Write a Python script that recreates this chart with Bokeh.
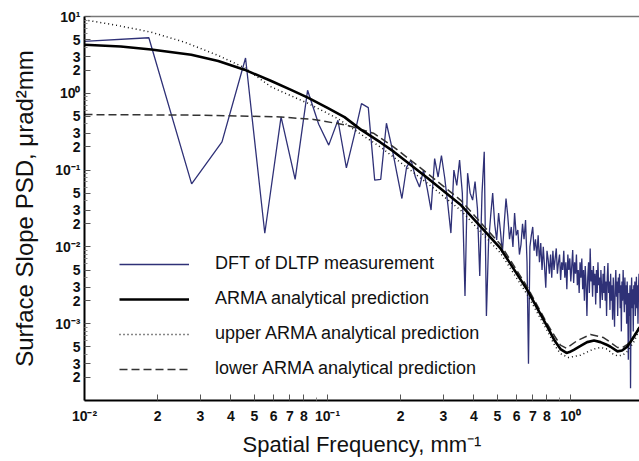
import numpy as np
from bokeh.plotting import figure
from bokeh.models import FixedTicker, LogAxis, Legend, LegendItem
from bokeh.embed import file_html
from bokeh.resources import INLINE

# ---------------- data ----------------
# DFT of DLTP measurement: regular frequency grid (step DF, mm^-1), log10 of PSD
DF = 0.0092
dft_log_psd = [
    0.67, 0.723, -1.18, -0.632, 0.459, -1.822, -0.307, -1.121, 0.039, -0.403,
    -0.675, -0.351, -0.97, -0.55, -0.134, -0.186, -1.13, -1.12, -0.39, -0.70,
    -1.05, -1.37, -0.96, -0.87, -1.09, -1.22, -1.0, -1.25, -1.52, -0.85,
    -1.09, -0.81, -1.1, -1.45, -1.82, -1.0, -1.2, -0.87, -1.3, -2.64,
    -1.04, -1.3, -1.39, -1.15, -1.5, -2.38, -1.3, -0.76, -2.9, -1.95,
    -1.6, -1.30, -1.7, -1.91, -1.56, -1.8, -2.08, -1.7, -1.37, -1.6,
    -1.9, -1.74, -2.0, -1.56, -1.85, -1.78, -2.1, -1.97, -1.7, -1.9,
    -1.65, -2.2, -3.52, -2.0, -1.85, -1.74, -2.05, -1.9, -2.12, -1.85,
    -2.2, -1.95, -2.3, -2.0, -2.26, -2.53, -2.05, -2.17, -2.35, -2.1,
    -2.4, -2.05, -2.3, -2.15, -2.02, -2.35, -2.2, -2.1, -2.43, -2.2,
    -2.3, -2.05, -2.4, -2.2, -2.55, -2.1, -2.3, -2.15, -2.45, -2.25,
    -2.04, -2.47, -2.2, -2.35, -2.1, -2.5, -2.3, -2.6, -2.2, -2.4,
    -2.15, -2.55, -2.3, -2.7, -2.25, -2.5, -2.9, -2.4, -2.2, -2.6,
    -2.02, -2.45, -2.3, -2.65, -2.25, -2.5, -2.35, -2.75, -2.3, -2.6,
    -2.2, -2.5, -2.4, -2.8, -2.3, -2.55, -2.69, -2.35, -2.6, -2.25,
    -2.7, -2.45, -2.9, -2.4, -2.21, -2.6, -2.45, -2.82, -2.35, -2.7,
    -2.5, -2.95, -2.4, -2.75, -3.04, -2.5, -2.3, -2.65, -2.45, -2.9,
    -2.4, -2.6, -2.35, -2.8, -2.5, -3.1, -2.45, -2.7, -2.3, -2.6,
    -2.85, -2.4, -2.75, -2.5, -3.0, -2.45, -2.7, -3.47, -2.6, -2.9,
    -2.5, -3.84, -2.7, -2.4, -2.8, -2.55, -3.1, -2.5, -2.75, -2.45,
    -2.9, -2.6, -2.39, -2.8, -2.5, -3.0, -2.6, -2.35, -2.7,
]

# ARMA analytical prediction
arma_f = [0.01, 0.0141, 0.0188, 0.0275, 0.0355, 0.0455, 0.0587, 0.0708, 0.083,
          0.1, 0.1175, 0.1367, 0.1653, 0.1874, 0.2572, 0.3527, 0.5152, 0.6636,
          0.8018, 0.86, 0.9095, 0.9627, 0.99, 1.032, 1.10, 1.171, 1.25, 1.329,
          1.40, 1.461, 1.561, 1.63, 1.711, 1.80, 1.923]
arma_log = [0.632, 0.61, 0.571, 0.503, 0.42, 0.308, 0.16, 0.045, -0.056,
            -0.19, -0.31, -0.47, -0.64, -0.76, -1.10, -1.45, -2.02, -2.56,
            -3.035, -3.22, -3.33, -3.38, -3.37, -3.34, -3.29, -3.24, -3.22, -3.24,
            -3.27, -3.30, -3.36, -3.35, -3.30, -3.20, -3.05]

# upper ARMA analytical prediction
upper_f = [0.01, 0.0137, 0.0188, 0.0258, 0.0354, 0.0455, 0.0587, 0.083, 0.1103,
           0.1367, 0.1653, 0.2572, 0.3527, 0.5152, 0.6636, 0.8018, 0.86, 0.9095,
           0.981, 1.0994, 1.2434, 1.33, 1.415, 1.49, 1.561, 1.64, 1.715, 1.82, 1.923]
upper_log = [0.957, 0.883, 0.796, 0.666, 0.494, 0.334, 0.082, -0.13, -0.33,
             -0.53, -0.70, -1.17, -1.52, -2.08, -2.62, -3.09, -3.28, -3.39,
             -3.44, -3.41, -3.33, -3.31, -3.33, -3.39, -3.42, -3.41, -3.36, -3.24, -3.08]

# lower ARMA analytical prediction
lower_f = [0.01, 0.03, 0.0641, 0.0876, 0.1206, 0.1546, 0.1874, 0.2572, 0.3527,
           0.5152, 0.6636, 0.8018, 0.86, 0.9095, 0.9627, 1.0656, 1.2085, 1.3671,
           1.47, 1.561, 1.64, 1.715, 1.82, 1.923]
lower_log = [-0.277, -0.285, -0.308, -0.34, -0.416, -0.52, -0.70, -1.04, -1.39,
             -1.97, -2.52, -3.0, -3.16, -3.28, -3.32, -3.22, -3.14, -3.18,
             -3.25, -3.31, -3.31, -3.27, -3.16, -3.04]

# axis ticks and labels
x_ticks = [0.01, 0.02, 0.03, 0.04, 0.05, 0.06, 0.07, 0.08,
           0.1, 0.2, 0.3, 0.4, 0.5, 0.6, 0.7, 0.8, 1.0]
x_tick_labels = ["10\u207b\u00b2", "2", "3", "4", "5", "6", "7", "8",
                 "10\u207b\u00b9", "2", "3", "4", "5", "6", "7", "8", "10\u2070"]
x_minor = [0.09, 0.9]

y_ticks = [10.0, 5.0, 3.0, 2.0, 1.0, 0.5, 0.3, 0.2, 0.1, 0.05, 0.03, 0.02,
           0.01, 0.005, 0.003, 0.002, 0.001, 0.0005, 0.0003, 0.0002]
y_tick_labels = ["10\u00b9", "5", "3", "2", "10\u2070", "5", "3", "2",
                 "10\u207b\u00b9", "5", "3", "2", "10\u207b\u00b2", "5", "3", "2",
                 "10\u207b\u00b3", "5", "3", "2"]
y_minor = [9.0, 8.0, 7.0, 6.0, 4.0, 0.9, 0.8, 0.7, 0.6, 0.4,
           0.09, 0.08, 0.07, 0.06, 0.04, 0.009, 0.008, 0.007, 0.006, 0.004,
           0.0009, 0.0008, 0.0007, 0.0006, 0.0004]

legend_labels = ["DFT of DLTP measurement", "ARMA analytical prediction",
                 "upper ARMA analytical prediction", "lower ARMA analytical prediction"]

# ---------------- figure ----------------
FONT = "Liberation Sans"
p = figure(width=639, height=461, x_axis_type="log", y_axis_type="log",
           x_range=(0.01, 1.923), y_range=(1e-4, 10.0),
           output_backend="svg", toolbar_location=None,
           min_border_left=84, min_border_right=0, min_border_top=16,
           min_border_bottom=61)
p.outline_line_color = None
p.grid.visible = False
p.background_fill_color = "white"
p.border_fill_color = "white"

dft_f = DF * np.arange(1, len(dft_log_psd) + 1)
r_dft = p.line(dft_f, 10.0 ** np.array(dft_log_psd), line_color="#2f3177", line_width=1.3)
r_up = p.line(upper_f, 10.0 ** np.array(upper_log), line_color="#111111", line_width=1.5,
              line_dash="1 3")
r_lo = p.line(lower_f, 10.0 ** np.array(lower_log), line_color="#333333", line_width=1.5,
              line_dash="8 4")
r_arma = p.line(arma_f, 10.0 ** np.array(arma_log), line_color="black", line_width=2.6)

# axes
for ax, ticks, labels, minor in ((p.xaxis[0], x_ticks, x_tick_labels, x_minor),
                                 (p.yaxis[0], y_ticks, y_tick_labels, y_minor)):
    ax.ticker = FixedTicker(ticks=ticks, minor_ticks=minor)
    ax.major_label_overrides = {t: l for t, l in zip(ticks, labels)}
    ax.axis_line_width = 2
    ax.axis_line_color = "black"
    ax.major_tick_in = 6
    ax.major_tick_out = 0
    ax.minor_tick_in = 3
    ax.minor_tick_out = 0
    ax.major_tick_line_color = "#555555"
    ax.minor_tick_line_color = "#888888"
    ax.major_label_text_font = FONT
    ax.major_label_text_font_size = "14px"
    ax.major_label_text_font_style = "bold"
    ax.major_label_text_color = "#111111"
    ax.axis_label_text_font = FONT
    ax.axis_label_text_font_style = "normal"
    ax.axis_label_text_color = "#111111"

p.xaxis.axis_label = "Spatial Frequency, mm\u207b\u00b9"
p.yaxis.axis_label = "Surface Slope PSD, \u03bcrad\u00b2mm"
p.xaxis.axis_label_text_font_size = "22px"
p.yaxis.axis_label_text_font_size = "24px"
p.xaxis.major_label_standoff = 7
p.xaxis.axis_label_standoff = 5
p.yaxis.major_label_standoff = 4
p.yaxis.axis_label_standoff = 14

top_axis = LogAxis(ticker=FixedTicker(ticks=[], minor_ticks=[]),
                   axis_line_color="#777777", axis_line_width=1.5,
                   major_tick_in=0, major_tick_out=0, minor_tick_in=0, minor_tick_out=0,
                   major_label_text_font_size="0px")
p.add_layout(top_axis, "above")

legend = Legend(items=[LegendItem(label=legend_labels[0], renderers=[r_dft]),
                       LegendItem(label=legend_labels[1], renderers=[r_arma]),
                       LegendItem(label=legend_labels[2], renderers=[r_up]),
                       LegendItem(label=legend_labels[3], renderers=[r_lo])],
                location=(35, 21), glyph_width=70, glyph_height=20,
                label_height=20, label_standoff=26, spacing=14,
                padding=0, margin=0, border_line_color=None,
                background_fill_alpha=0.0, label_text_font=FONT,
                label_text_font_size="18px", label_text_color="#111111")
p.add_layout(legend, "center")

open("out.html", "w").write(file_html(p, INLINE))
